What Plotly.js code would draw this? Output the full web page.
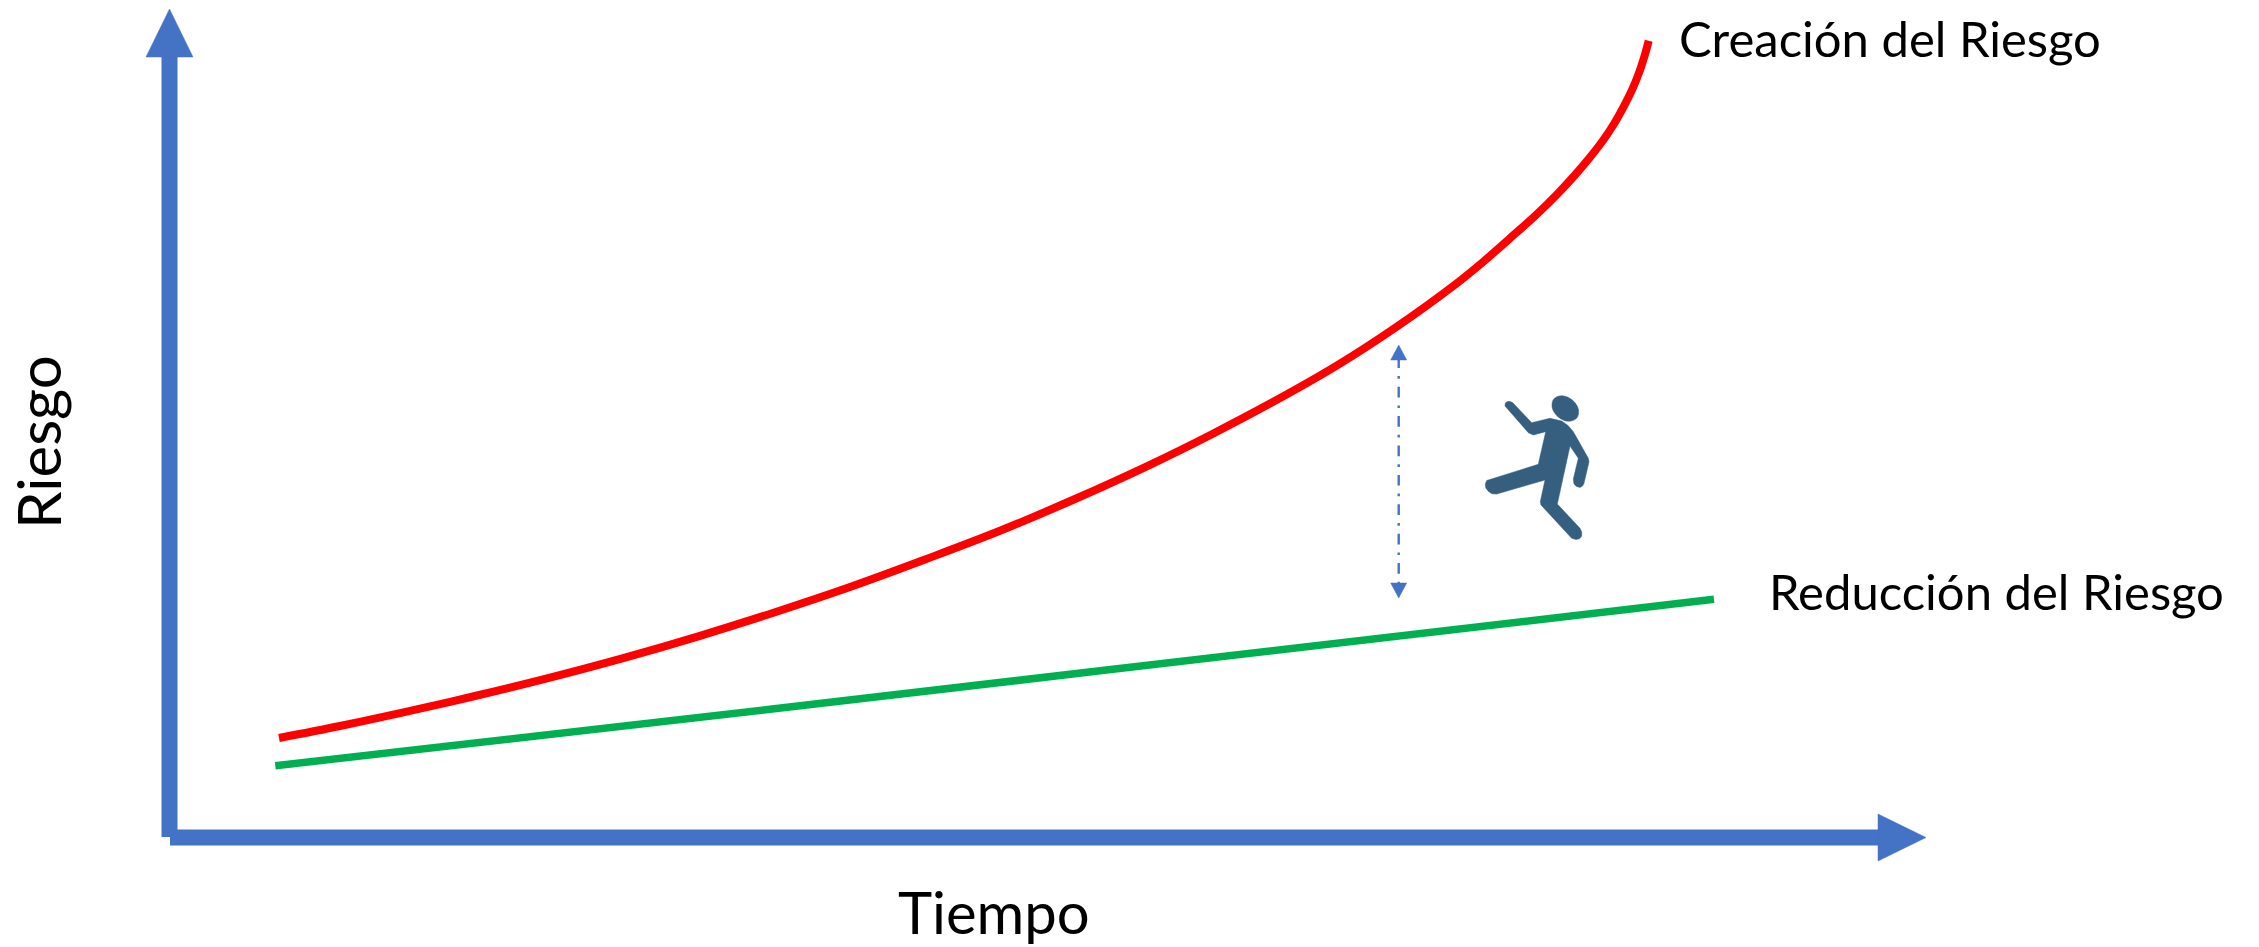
<!DOCTYPE html>
<html>
<head>
<meta charset="utf-8">
<script src="https://cdn.plot.ly/plotly-3.0.1.min.js"></script>
<style>html,body{margin:0;padding:0;background:#fff;overflow:hidden}#chart{width:2259px;height:947px}</style>
</head>
<body>
<div id="chart"></div>
<script>
const creacionX = [279,340,400,475,550,625,700,775,850,925,1000,1075,1150,1210,1270,1336.7,1396.7,1456.7,1483.3,1510,1536.7,1556.7,1575,1590,1603.3,1613.3,1623.3,1631.7,1639.3,1645,1648.7];
const creacionY = [738,726,713.2,696,677.6,657.6,635.8,612.2,587,559.5,530.8,499,464.8,435.2,403.6,365.6,326.7,283.3,261.7,238.3,214.3,194.7,175,157.3,140,125,107.3,90.7,72,54.3,40.7];
const reduccionX = [275.3,436.7,770,1100,1400,1714];
const reduccionY = [765.7,746.7,709.3,670.8,635.9,599.3];

const ejeYX = [169.5,169.5];
const ejeYY = [837,55];
const ejeXX = [170,1880];
const ejeXY = [837.5,837.5];
const puntaYX = [146,169.5,193,146];
const puntaYY = [57,9,57,57];
const puntaXX = [1878,1926,1878,1878];
const puntaXY = [814,837.5,861,814];

const brechaX = [1398.7,1398.7];
const brechaY = [357.3,585];
const flechaArribaX = [1390.7,1398.7,1406.7,1390.7];
const flechaArribaY = [360,345,360,360];
const flechaAbajoX = [1390.7,1398.7,1406.7,1390.7];
const flechaAbajoY = [583,598,583,583];

const cuerpoX = [1505,1505.3,1507.5,1510,1512.5,1514,1531.7,1550,1561.7,1568,1573.3,1588.3,1589,1584,1582.5,1580,1576.5,1574,1573.3,1578.3,1570,1557.3,1580,1581.7,1581.7,1579.5,1576,1571.7,1543.3,1541,1540.3,1545,1496.7,1492,1488.5,1485.8,1485.3,1486.7,1538.3,1545.7,1533.3,1528.3,1505];
const cuerpoY = [406,403,401.5,401.5,402.5,404,422.7,418.3,421,425.5,431.7,458.3,461.7,483.3,486,487.5,486.5,484,479.3,458.3,446,504,528.3,532,536,538.8,539.5,538.3,508.3,505,501.7,480,494,493.8,491.5,488,484,480.5,464.3,431.7,435,432.7,406];
const cabezaX = [1553.8,1562.2,1572.4,1578.4,1576.8,1568.4,1558.2,1552.2,1553.8];
const cabezaY = [398.9,395.7,400.1,409.3,418.1,421.3,416.9,407.7,398.9];

const AZUL = '#4472C4', ROJO = '#FF0000', VERDE = '#00B050', FIGURA = '#355E7F';
const TXT = 'Lato, Carlito, Calibri, sans-serif';

function linea(x, y, color, width, extra) {
  return {x, y, mode:'lines', type:'scatter', hoverinfo:'skip', showlegend:false,
          line:Object.assign({color, width}, extra || {})};
}
function relleno(x, y, color, shape) {
  return {x, y, mode:'lines', type:'scatter', fill:'toself', fillcolor:color, hoverinfo:'skip',
          showlegend:false, line:{color, width:0.5, shape:shape || 'linear'}};
}

const data = [
  linea(ejeYX, ejeYY, AZUL, 16),
  linea(ejeXX, ejeXY, AZUL, 16),
  relleno(puntaYX, puntaYY, AZUL),
  relleno(puntaXX, puntaXY, AZUL),
  linea(reduccionX, reduccionY, VERDE, 7.5),
  linea(creacionX, creacionY, ROJO, 8, {shape:'spline', smoothing:1}),
  linea(brechaX, brechaY, AZUL, 2.4, {dash:'10.7px,8px,2.7px,8px'}),
  relleno(flechaArribaX, flechaArribaY, AZUL),
  relleno(flechaAbajoX, flechaAbajoY, AZUL),
  relleno(cuerpoX, cuerpoY, FIGURA),
  relleno(cabezaX, cabezaY, FIGURA, 'spline')
];

function rotulo(text, x, y, size, xanchor, angle) {
  return {text, x, y, xref:'x', yref:'y', showarrow:false, xanchor, yanchor:'middle',
          textangle:angle || 0, font:{family:TXT, size, color:'#000'}};
}

const layout = {
  width:2259, height:947,
  margin:{l:0,r:0,t:0,b:0,pad:0},
  paper_bgcolor:'#fff', plot_bgcolor:'#fff',
  showlegend:false,
  xaxis:{range:[0,2259], visible:false, fixedrange:true},
  yaxis:{range:[947,0], visible:false, fixedrange:true},
  annotations:[
    rotulo('Creación del Riesgo', 1677, 38, 49, 'left'),
    rotulo('Reducción del Riesgo', 1767, 591, 49, 'left'),
    rotulo('Tiempo', 994, 911, 58, 'center'),
    rotulo('Riesgo', 38, 442, 60, 'center', -90)
  ]
};
Plotly.newPlot('chart', data, layout, {staticPlot:true, displayModeBar:false});
</script>
</body>
</html>
